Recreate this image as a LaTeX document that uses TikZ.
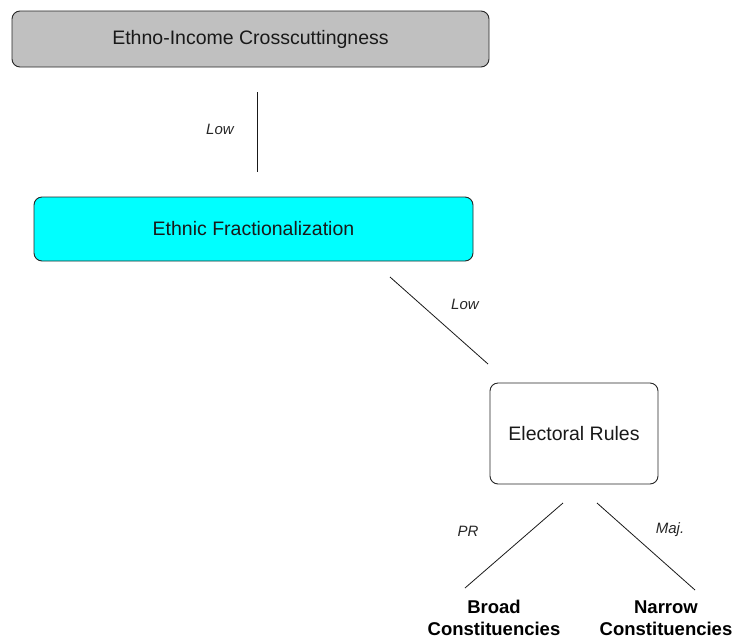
\documentclass[tikz,border=0pt]{standalone}
\usepackage{fontspec}
\setmainfont{Liberation Sans}
\definecolor{aqua}{RGB}{0,255,255}
\definecolor{panelgrey}{RGB}{192,192,192}
\begin{document}
\begin{tikzpicture}[x=1pt,y=-1pt,
  box/.style={draw=black!85, line width=0.9pt, rounded corners=8pt, inner sep=0pt,
    font=\fontsize{19.5}{22}\selectfont, text=black!90},
  branch/.style={draw=black!90, line width=0.8pt},
  lbl/.style={font=\fontsize{15}{17}\selectfont\itshape, text=black!85},
  leaf/.style={font=\fontsize{18.5}{21.5}\selectfont\bfseries, align=center, inner sep=0pt, text=black}]
\useasboundingbox (0,0) rectangle (745,638);

% boxes
\node[box, fill=panelgrey, minimum width=477pt, minimum height=56pt] (cross) at (250.5,39) {Ethno-Income Crosscuttingness};
\node[box, fill=aqua, minimum width=439pt, minimum height=64pt] (frac) at (253.5,229) {Ethnic Fractionalization};
\node[box, fill=white, minimum width=168pt, minimum height=101pt] (rules) at (574,433.5) {Electoral Rules};

% outcomes
\node[leaf] (broad) at (494,618) {Broad\\Constituencies};
\node[leaf] (narrow) at (666,618) {Narrow\\Constituencies};

% connector end points
\coordinate (c1a) at (257,92);
\coordinate (c1b) at (257,172);
\coordinate (c2a) at (390,277);
\coordinate (c2b) at (488,364);
\coordinate (c3a) at (563,503);
\coordinate (c3b) at (465,588);
\coordinate (c4a) at (597,503);
\coordinate (c4b) at (695,590);

\draw[branch] (c1a) -- (c1b);
\draw[branch] (c2a) -- (c2b);
\draw[branch] (c3a) -- (c3b);
\draw[branch] (c4a) -- (c4b);

% branch labels
\node[lbl] (l1) at (220,129) {Low};
\node[lbl] (l2) at (465,304) {Low};
\node[lbl] (l3) at (468,531) {PR};
\node[lbl] (l4) at (670,530) {Maj.};
\end{tikzpicture}
\end{document}
